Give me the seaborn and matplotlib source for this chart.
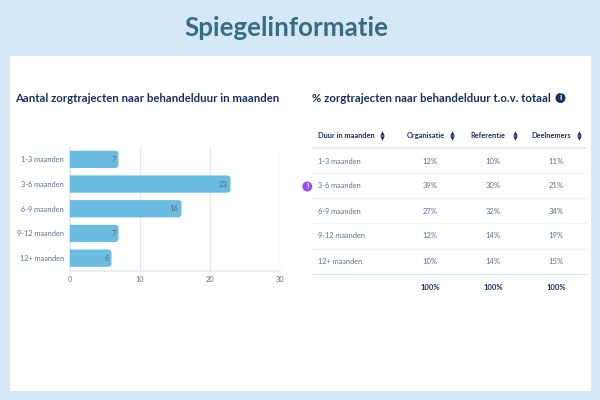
import matplotlib
matplotlib.use("Agg")
import matplotlib.pyplot as plt
from matplotlib.patches import FancyBboxPatch, Rectangle, Circle
import pandas as pd
import seaborn as sns

main_title = "Spiegelinformatie"
left_title = "Aantal zorgtrajecten naar behandelduur in maanden"
right_title = "% zorgtrajecten naar behandelduur t.o.v. totaal"
categories = ["1-3 maanden", "3-6 maanden", "6-9 maanden", "9-12 maanden", "12+ maanden"]
counts = [7, 23, 16, 7, 6]
x_ticks = [0, 10, 20, 30]
headers = ["Duur in maanden", "Organisatie", "Referentie", "Deelnemers"]
organisatie = ["12%", "39%", "27%", "12%", "10%"]
referentie = ["10%", "30%", "32%", "14%", "14%"]
deelnemers = ["11%", "21%", "34%", "19%", "15%"]
totals = ["100%", "100%", "100%"]

BG = "#d4e9f5"; NAVY = "#1b2f58"; GREY = "#5f6f88"; BAR = "#6cbce2"; GRID = "#e6e9f2"
sns.set_theme(style="white")
plt.rcParams["font.family"] = ["Lato", "DejaVu Sans"]

W, H = 600, 400
fig = plt.figure(figsize=(6, 4), dpi=100, facecolor=BG)

ov = fig.add_axes([0, 0, 1, 1], zorder=0)
ov.set_xlim(0, W); ov.set_ylim(H, 0); ov.axis("off")
ov.add_patch(Rectangle((10, 56), 581, 335, fc="white", ec="none"))
ov.text(286, 27.5, main_title, ha="center", va="center", fontsize=18.6, fontweight="bold", color="#3a6b85")
ov.text(15, 98.5, left_title, ha="left", va="center", fontsize=8.2, fontweight="bold", color=NAVY)
ov.text(312, 98.5, right_title, ha="left", va="center", fontsize=8.2, fontweight="bold", color=NAVY)
ov.add_patch(Circle((560.5, 98), 5, fc=NAVY, ec="none"))
ov.text(560.5, 98, "i", ha="center", va="center", fontsize=6.5, fontweight="bold", color="white")

ax = fig.add_axes([69.5 / W, 1 - 270.5 / H, 210 / W, 123.5 / H], zorder=1)
ax.patch.set_alpha(0)
df = pd.DataFrame({"cat": categories, "n": counts})
sns.barplot(data=df, x="n", y="cat", color=BAR, width=0.7, saturation=1, ax=ax, zorder=3)
ax.set_xlim(x_ticks[0], x_ticks[-1])
ax.set_xticks(x_ticks)
ax.set_xlabel(""); ax.set_ylabel("")
ax.grid(axis="x", color=GRID, lw=1); ax.set_axisbelow(True)
for s in ["top", "right"]:
    ax.spines[s].set_visible(False)
ax.spines["left"].set_color(GRID); ax.spines["bottom"].set_color(GRID)
ax.spines["bottom"].set_linewidth(1.2)
ax.tick_params(axis="both", length=0, labelsize=5.3, labelcolor=GREY, pad=4)

aspect = (30 / 210) / (5 / 123.5)
for p, v in zip(list(ax.patches), counts):
    x, y, w, h = p.get_x(), p.get_y(), p.get_width(), p.get_height()
    p.remove()
    ax.add_patch(FancyBboxPatch((x - 1, y), w + 1, h,
                                boxstyle="round,pad=0,rounding_size=0.5", fc=BAR, ec="none", zorder=3,
                                mutation_aspect=1 / aspect, clip_on=True))
    ax.text(v - 0.4, y + h / 2, str(v), ha="right", va="center", fontsize=5.5, color="#4f6478", zorder=4)

col_x = [318, 430, 493, 556]
head_x = [318, 425.5, 488, 551.5]
icon_x = [382, 452, 515, 579]
row_y = [161, 186, 211, 236, 262]
line_y = [173, 198, 223, 249]
for i, (h, hx, ix) in enumerate(zip(headers, head_x, icon_x)):
    ov.text(hx, 135.5, h, ha="left" if i == 0 else "center", va="center", fontsize=5.3, fontweight="bold", color=NAVY)
    ov.plot([ix], [133], marker="^", ms=3.2, color=NAVY, mew=0)
    ov.plot([ix], [138], marker="v", ms=3.2, color=NAVY, mew=0)
ov.plot([312, 586], [148, 148], color="#e9ebef", lw=1.4)
for y in line_y:
    ov.plot([312, 586], [y, y], color="#f1f2f5", lw=1)
ov.plot([312, 586], [274, 274], color="#dfe2e8", lw=1)
for c, o, r, d, y in zip(categories, organisatie, referentie, deelnemers, row_y):
    ov.text(col_x[0], y, c, ha="left", va="center", fontsize=5.3, color=GREY)
    for x, t in zip(col_x[1:], (o, r, d)):
        ov.text(x, y, t, ha="center", va="center", fontsize=5.5, color=GREY)
for x, t in zip(col_x[1:], totals):
    ov.text(x, 287.5, t, ha="center", va="center", fontsize=5.5, fontweight="bold", color=NAVY)
ov.add_patch(Circle((307.3, 186.5), 5, fc="#9b4df0", ec="none"))
ov.text(307.3, 186.5, "!", ha="center", va="center", fontsize=6, fontweight="bold", color="white")

fig.savefig("out.png", dpi=100, facecolor=BG)
